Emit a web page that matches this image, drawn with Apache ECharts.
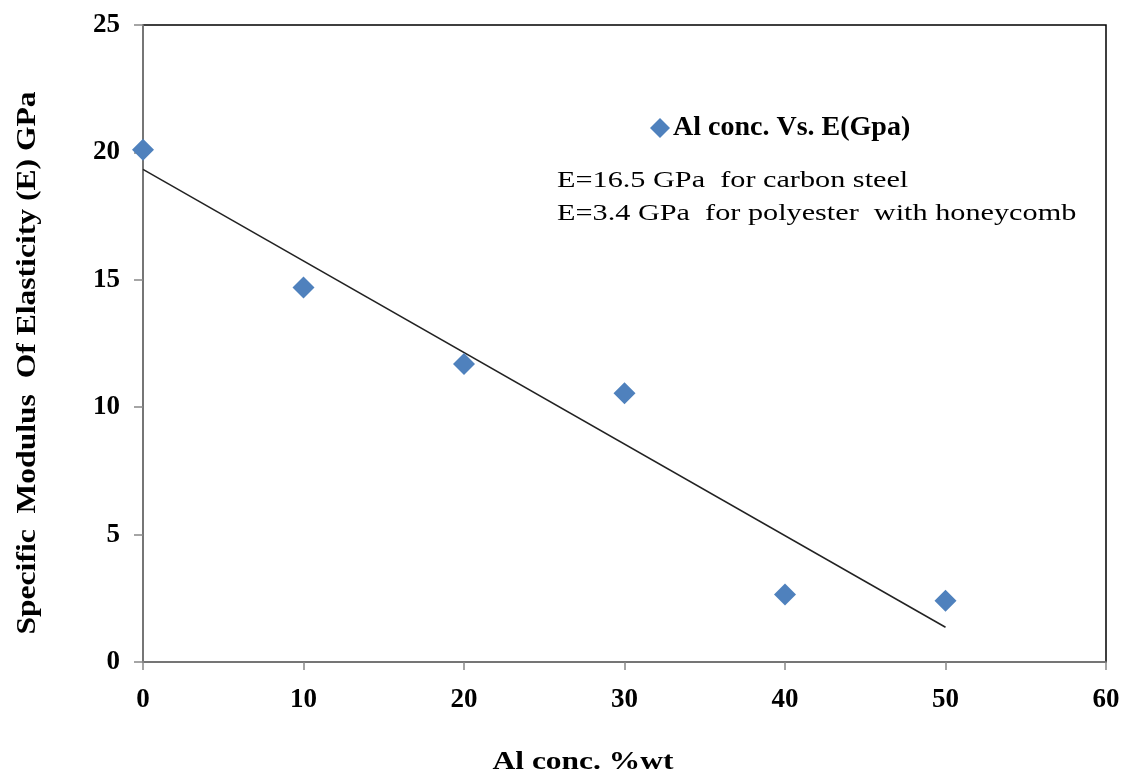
<!DOCTYPE html>
<html><head><meta charset="utf-8">
<script src="https://cdn.jsdelivr.net/npm/echarts@6/dist/echarts.min.js"></script>
<style>html,body{margin:0;padding:0;background:#fff}#c{width:1128px;height:774px}</style>
</head><body><div id="c"></div>
<script>
const alConc = [0, 10, 20, 30, 40, 50];
const modulusE = [20.1, 14.7, 11.7, 10.55, 2.65, 2.4];
const xTicks = [0, 10, 20, 30, 40, 50, 60];
const yTicks = [0, 5, 10, 15, 20, 25];
const seriesName = 'Al conc. Vs. E(Gpa)';
const noteLines = ['E=16.5 GPa  for carbon steel', 'E=3.4 GPa  for polyester  with honeycomb'];
const xTitle = 'Al conc. %wt';
const yTitle = 'Specific  Modulus  Of Elasticity (E) GPa';

// linear least-squares trend line through the data
const n = alConc.length;
const mx = alConc.reduce((a, b) => a + b, 0) / n;
const my = modulusE.reduce((a, b) => a + b, 0) / n;
let sxy = 0, sxx = 0;
for (let i = 0; i < n; i++) { sxy += (alConc[i] - mx) * (modulusE[i] - my); sxx += (alConc[i] - mx) ** 2; }
const slope = sxy / sxx, icpt = my - slope * mx;
const trend = [[alConc[0], icpt + slope * alConc[0]], [alConc[n - 1], icpt + slope * alConc[n - 1]]];

const font = '"Liberation Serif", "Times New Roman", serif';
const chart = echarts.init(document.getElementById('c'));
chart.setOption({
  animation: false,
  grid: { left: 143, right: 22, top: 25, bottom: 112, show: true, borderColor: '#000', borderWidth: 1.5, backgroundColor: 'transparent' },
  xAxis: {
    type: 'value', min: xTicks[0], max: xTicks[xTicks.length - 1], interval: 10,
    axisLine: { show: true, onZero: false, lineStyle: { color: '#888', width: 1.5 } },
    axisTick: { show: true, length: 8, lineStyle: { color: '#888', width: 1.5 } },
    axisLabel: { color: '#000', fontFamily: font, fontWeight: 'bold', fontSize: 27, margin: 25 },
    splitLine: { show: false }
  },
  yAxis: {
    type: 'value', min: yTicks[0], max: yTicks[yTicks.length - 1], interval: 5,
    axisLine: { show: true, onZero: false, lineStyle: { color: '#888', width: 1.5 } },
    axisTick: { show: true, length: 9, lineStyle: { color: '#888', width: 1.5 } },
    axisLabel: { color: '#000', fontFamily: font, fontWeight: 'bold', fontSize: 27, margin: 23 },
    splitLine: { show: false }
  },
  legend: {
    show: true, left: 645, top: 109, itemWidth: 20, itemHeight: 20, itemGap: 6,
    data: [{ name: seriesName, icon: 'diamond' }],
    textStyle: { color: '#000', fontFamily: font, fontWeight: 'bold', fontSize: 28, padding: [0, 0, 0, -2] }
  },
  series: [
    { name: seriesName, type: 'scatter', data: alConc.map((x, i) => [x, modulusE[i]]), symbol: 'diamond', symbolSize: 22, itemStyle: { color: '#4F81BD', opacity: 1 }, z: 3 },
    { name: 'trend', type: 'line', data: trend, showSymbol: false, symbol: 'none', lineStyle: { color: '#222', width: 1.5 }, z: 2 }
  ],
  graphic: [
    { type: 'text', x: 557, y: 181, scaleX: 1.26, style: { text: noteLines[0], fill: '#000', font: '24px ' + font, verticalAlign: 'middle' } },
    { type: 'text', x: 557, y: 214, scaleX: 1.26, style: { text: noteLines[1], fill: '#000', font: '24px ' + font, verticalAlign: 'middle' } },
    { type: 'text', x: 583, y: 762, scaleX: 1.21, style: { text: xTitle, fill: '#000', font: 'bold 26px ' + font, align: 'center', verticalAlign: 'middle' } },
    { type: 'text', x: 28, y: 363, rotation: Math.PI / 2, scaleX: 1.17, style: { text: yTitle, fill: '#000', font: 'bold 27px ' + font, align: 'center', verticalAlign: 'middle' } }
  ]
});
</script></body></html>
